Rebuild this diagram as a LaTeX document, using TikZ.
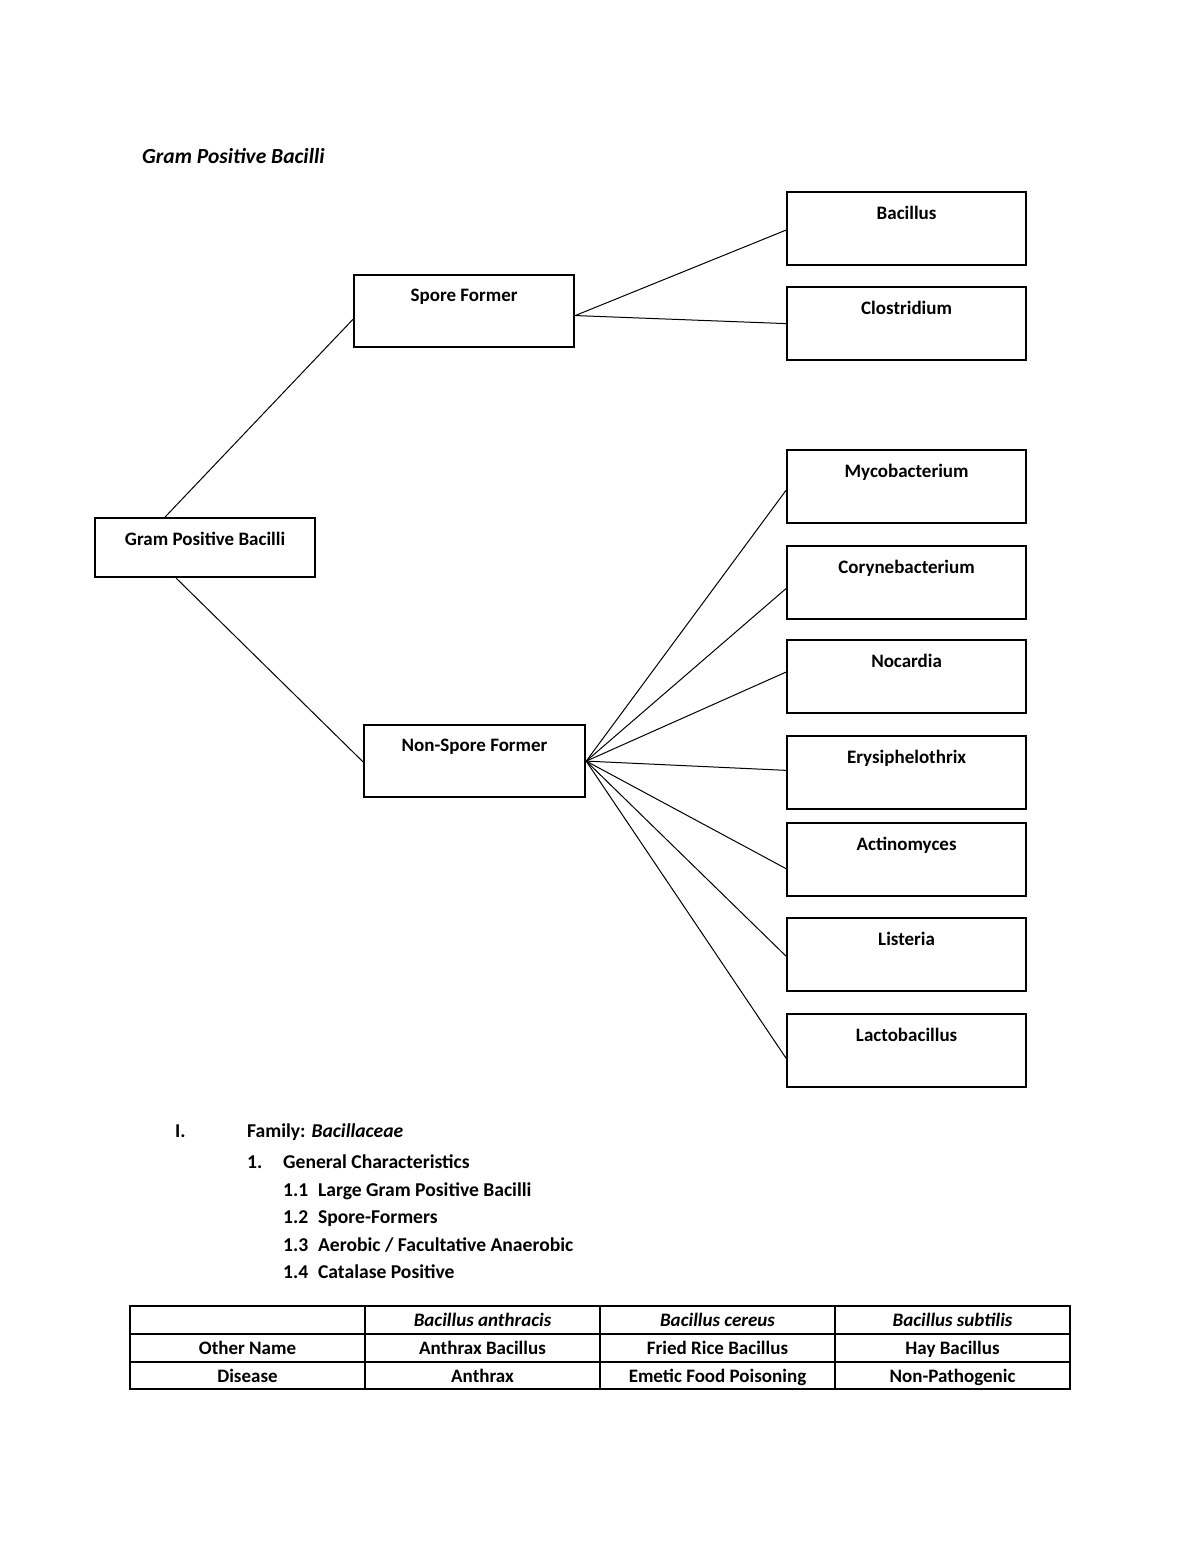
\documentclass[tikz,border=0pt]{standalone}
\usepackage{fontspec}
\setmainfont{Carlito}
\usetikzlibrary{calc}
\begin{document}
\begin{tikzpicture}[x=1pt,y=-1pt,
  box/.style={draw,line width=2.2pt,inner sep=0pt,anchor=north west,align=center,
    font=\fontsize{19}{22}\selectfont\bfseries},
  kid/.style={box,minimum width=239pt,text height=27pt,text depth=46pt},
  conn/.style={line width=1pt},
  txt/.style={inner sep=0pt,anchor=base west,font=\fontsize{19.6}{24}\selectfont\bfseries},
  cell/.style={draw,line width=2pt,inner sep=0pt,anchor=north west,minimum width=235pt,
    minimum height=28pt,text height=15pt,text depth=2pt,font=\fontsize{19}{22}\selectfont\bfseries}
]
\useasboundingbox[fill=white] (0,0) rectangle (1200,1553);

\node[txt,font=\fontsize{21.5}{24}\selectfont\bfseries\itshape] (title) at (142,163) {Gram Positive Bacilli};

\node[box,minimum width=220pt,text height=27pt,text depth=32pt] (root) at (94,517) {Gram Positive Bacilli};
\node[box,minimum width=220pt,text height=26pt,text depth=46pt] (sf) at (353,274) {Spore Former};
\node[box,minimum width=221pt,text height=26pt,text depth=46pt] (nsf) at (363,724) {Non-Spore Former};

\node[kid] (bac) at (786,191) {Bacillus};
\node[kid] (clo) at (786,286) {Clostridium};
\node[kid] (myc) at (786,449) {Mycobacterium};
\node[kid] (cor) at (786,545) {Corynebacterium};
\node[kid] (noc) at (786,639) {Nocardia};
\node[kid] (ery) at (786,735) {Erysiphelothrix};
\node[kid] (act) at (786,822) {Actinomyces};
\node[kid] (lis) at (786,917) {Listeria};
\node[kid] (lac) at (786,1013) {Lactobacillus};

\draw[conn] ($(root.north west)!0.32!(root.north east)$) -- ($(sf.north west)!0.61!(sf.south west)$);
\draw[conn] ($(root.south west)!0.37!(root.south east)$) -- ($(nsf.north west)!0.51!(nsf.south west)$);
\coordinate (sfr) at ($(sf.north east)!0.56!(sf.south east)$);
\draw[conn] (sfr) -- ($(bac.north west)!0.52!(bac.south west)$);
\draw[conn] (sfr) -- ($(clo.north west)!0.5!(clo.south west)$);
\coordinate (nsr) at ($(nsf.north east)!0.5!(nsf.south east)$);
\draw[conn] (nsr) -- ($(myc.north west)!0.55!(myc.south west)$);
\draw[conn] (nsr) -- ($(cor.north west)!0.58!(cor.south west)$);
\draw[conn] (nsr) -- ($(noc.north west)!0.44!(noc.south west)$);
\draw[conn] (nsr) -- ($(ery.north west)!0.47!(ery.south west)$);
\draw[conn] (nsr) -- ($(act.north west)!0.62!(act.south west)$);
\draw[conn] (nsr) -- ($(lis.north west)!0.52!(lis.south west)$);
\draw[conn] (nsr) -- ($(lac.north west)!0.6!(lac.south west)$);

\node[txt] (l1) at (175,1137) {I.};
\node[txt] (l1b) at (247,1137) {Family: \textit{Bacillaceae}};
\node[txt] (l2) at (247,1168) {1.};
\node[txt] (l2b) at (283,1168) {General Characteristics};
\node[txt] (l3) at (283,1196) {1.1\hspace{0.5em}Large Gram Positive Bacilli};
\node[txt] (l4) at (283,1223) {1.2\hspace{0.5em}Spore-Formers};
\node[txt] (l5) at (283,1251) {1.3\hspace{0.5em}Aerobic / Facultative Anaerobic};
\node[txt] (l6) at (283,1278) {1.4\hspace{0.5em}Catalase Positive};

\node[cell] (c11) at (129,1305) {};
\node[cell] (c12) at (364,1305) {\itshape Bacillus anthracis};
\node[cell] (c13) at (599,1305) {\itshape Bacillus cereus};
\node[cell] (c14) at (834,1305) {\itshape Bacillus subtilis};
\node[cell] (c21) at (129,1333) {Other Name};
\node[cell] (c22) at (364,1333) {Anthrax Bacillus};
\node[cell] (c23) at (599,1333) {Fried Rice Bacillus};
\node[cell] (c24) at (834,1333) {Hay Bacillus};
\node[cell,minimum height=27pt] (c31) at (129,1361) {Disease};
\node[cell,minimum height=27pt] (c32) at (364,1361) {Anthrax};
\node[cell,minimum height=27pt] (c33) at (599,1361) {Emetic Food Poisoning};
\node[cell,minimum height=27pt] (c34) at (834,1361) {Non-Pathogenic};
\end{tikzpicture}
\end{document}
